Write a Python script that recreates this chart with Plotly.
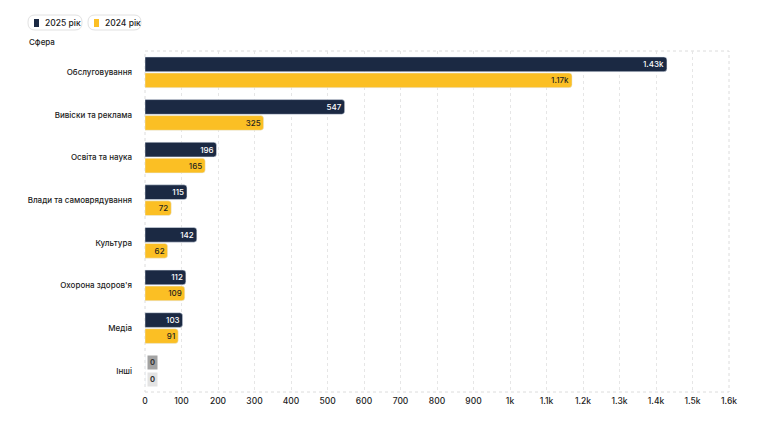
import plotly.graph_objects as go

categories = ["Обслуговування", "Вивіски та реклама", "Освіта та наука",
              "Влади та самоврядування", "Культура", "Охорона здоров'я",
              "Медіа", "Інші"]
values_2025 = [1430, 547, 196, 115, 142, 112, 103, 0]
values_2024 = [1170, 325, 165, 72, 62, 109, 91, 0]
series_names = ["2025 рік", "2024 рік"]

NAVY = "#1b2943"
YELLOW = "#fbbf24"
FONT = "Inter"

# page body has an 8px margin, so the figure is drawn a bit smaller
FW, FH = 754, 407
L, T = 137, 43
W, H = 584, 341
R, B = FW - L - W, FH - T - H


def px(x, y):
    # window pixel -> paper coords
    return (x - 8 - L) / W, (FH - B - (y - 8)) / H


def pill(x0, y0, x1, y1, r=7):
    # rounded rectangle path in paper coords from window pixel box
    rx, ry = r / W, r / H
    a0, b1 = px(x0, y0)
    a1, b0 = px(x1, y1)
    return (f"M{a0+rx},{b0} L{a1-rx},{b0} Q{a1},{b0} {a1},{b0+ry} "
            f"L{a1},{b1-ry} Q{a1},{b1} {a1-rx},{b1} L{a0+rx},{b1} "
            f"Q{a0},{b1} {a0},{b1-ry} L{a0},{b0+ry} Q{a0},{b0} {a0+rx},{b0} Z")


fig = go.Figure()
fig.add_trace(go.Bar(
    y=categories, x=values_2025, name=series_names[0], orientation="h",
    marker=dict(color=NAVY), texttemplate="%{x:.3~s}", textposition="inside",
    insidetextanchor="end", textangle=0, constraintext="none",
    textfont=dict(color="white", size=8, family=FONT, weight=500),
))
fig.add_trace(go.Bar(
    y=categories, x=values_2024, name=series_names[1], orientation="h",
    marker=dict(color=YELLOW), texttemplate="%{x:.3~s}", textposition="inside",
    insidetextanchor="end", textangle=0, constraintext="none",
    textfont=dict(color="#1f1f1f", size=8, family=FONT, weight=500),
))

annotations = [dict(text="Сфера", xref="paper", yref="paper",
                    x=px(27, 41.5)[0], y=px(27, 41.5)[1], xanchor="left",
                    yanchor="middle", showarrow=False,
                    font=dict(size=8, color="#222", family=FONT, weight=500))]
# zero values drawn as small grey pills
for c, v25, v24 in zip(categories, values_2025, values_2024):
    for v, shift, bg in ((v25, 8.5, "#a3a3a3"), (v24, -8.5, "#e3e3e3")):
        if v == 0:
            annotations.append(dict(
                x=0, y=c, text=f"<b>{v}</b>", showarrow=False, xanchor="left",
                xshift=2, yshift=shift, bgcolor=bg, borderpad=2,
                font=dict(size=7.5, color="#333", family=FONT)))

shapes = [
    dict(type="rect", xref="paper", yref="paper", x0=0, y0=0, x1=1, y1=1,
         line=dict(color="#dcdcdc", width=1, dash="dot"), layer="below"),
]

# custom pill legend
legend_boxes = [(28, 82), (88, 141)]
for (x0, x1), name, col in zip(legend_boxes, series_names, [NAVY, YELLOW]):
    shapes.append(dict(type="path", xref="paper", yref="paper",
                       path=pill(x0, 15, x1, 30), fillcolor="white",
                       line=dict(color="#e2e2e2", width=1), layer="above"))
    sx0, sy0 = px(x0 + 6, 19)
    sx1, sy1 = px(x0 + 11, 27)
    shapes.append(dict(type="rect", xref="paper", yref="paper",
                       x0=sx0, y0=sy0, x1=sx1, y1=sy1, fillcolor=col,
                       line=dict(width=0), layer="above"))
    tx, ty = px(x0 + 15, 22.5)
    annotations.append(dict(text=name, xref="paper", yref="paper", x=tx, y=ty,
                            xanchor="left", yanchor="middle", showarrow=False,
                            font=dict(size=8.5, color="#222", family=FONT,
                                      weight=500)))

fig.update_layout(
    width=FW, height=FH,
    margin=dict(l=L, r=R, t=T, b=B, autoexpand=False),
    paper_bgcolor="white", plot_bgcolor="white",
    font=dict(family=FONT, size=8, color="#222", weight=500),
    barmode="group", bargap=0.25, bargroupgap=0.08, barcornerradius=3,
    showlegend=False,
    xaxis=dict(range=[0, 1600], dtick=100, tickformat="~s", showgrid=True,
               gridcolor="#e6e6e6", griddash="dot", zeroline=False,
               automargin=False, ticklabelstandoff=2,
               tickfont=dict(size=8.5, color="#222"), ticks="", fixedrange=True),
    yaxis=dict(autorange="reversed", showgrid=False, zeroline=False,
               automargin=False, ticks="", ticklabelstandoff=12,
               tickfont=dict(size=8, color="#222")),
    annotations=annotations,
    shapes=shapes,
)

fig.write_html("out.html")
